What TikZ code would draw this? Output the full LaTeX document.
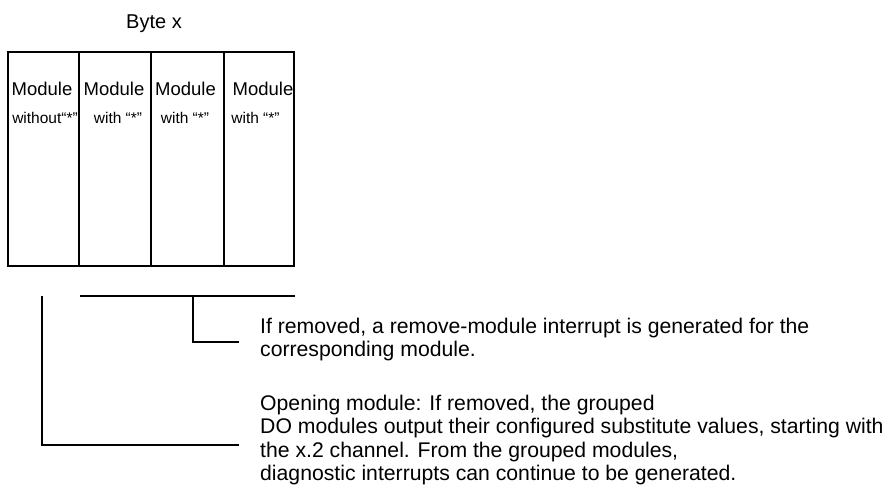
\documentclass[tikz,border=0pt]{standalone}
\usepackage{fontspec}
\setmainfont{Liberation Sans}
\usetikzlibrary{positioning}
\tikzset {
  x=1pt, y=-1pt,
  every node/.style={inner sep=0pt},
  modcol/.style={draw, line width=1.1pt, minimum height=214pt, inner sep=0pt},
  modname/.style={anchor=base, font=\fontsize{18.5}{21}\selectfont},
  modnote/.style={anchor=base, font=\fontsize{15.5}{18}\selectfont},
  remark/.style={anchor=base west, align=left, font=\fontsize{21.2}{23.5}\selectfont},
  bracket/.style={line width=1.1pt},
}

\begin{document}
\begin{tikzpicture}
  \useasboundingbox (0,0) rectangle (889,489);

  \node at (154,29)[anchor=base, font=\fontsize{20}{24}\selectfont] (byte) {Byte x};

  % the four modules of the byte
  \node[modcol, minimum width=71pt] (col1) at (43.5,159) {};
  \node[modcol, minimum width=72pt] (col2) at (115,159) {};
  \node[modcol, minimum width=73pt] (col3) at (187.5,159) {};
  \node[modcol, minimum width=70pt] (col4) at (259,159) {};

  \node[modname] (name1) at (42,96) {Module};
  \node[modname] (name2) at (114,96) {Module};
  \node[modname] (name3) at (185.5,96) {Module};
  \node[modname] (name4) at (263,96) {Module};

  \node[modnote] (note1) at (45,124) {without“*”};
  \node[modnote] (note2) at (118,124) {with “*”};
  \node[modnote] (note3) at (185,124) {with “*”};
  \node[modnote] (note4) at (255.5,124) {with “*”};

  % remarks (placed by the baseline of their last line)
  \node[remark] (rmtext) at (260,356.5) {If removed, a remove-module interrupt is generated for the\\corresponding module.};
  \node[remark] (optext) at (260,480.5) {Opening module: If removed, the grouped\\DO modules output their configured substitute values, starting with\\the x.2 channel. From the grouped modules,\\diagnostic interrupts can continue to be generated.};

  % brackets
  \coordinate (grp-l) at (80,296);
  \coordinate (grp-r) at (295,296);
  \coordinate (rm-top) at (193,296);
  \coordinate (rm-end) at (239,342);
  \coordinate (op-top) at (42,296);
  \coordinate (op-end) at (239,445);

  \draw[bracket] (grp-l) -- (grp-r);
  \draw[bracket] (rm-top) |- (rm-end);
  \draw[bracket] (op-top) |- (op-end);
\end{tikzpicture}
\end{document}
